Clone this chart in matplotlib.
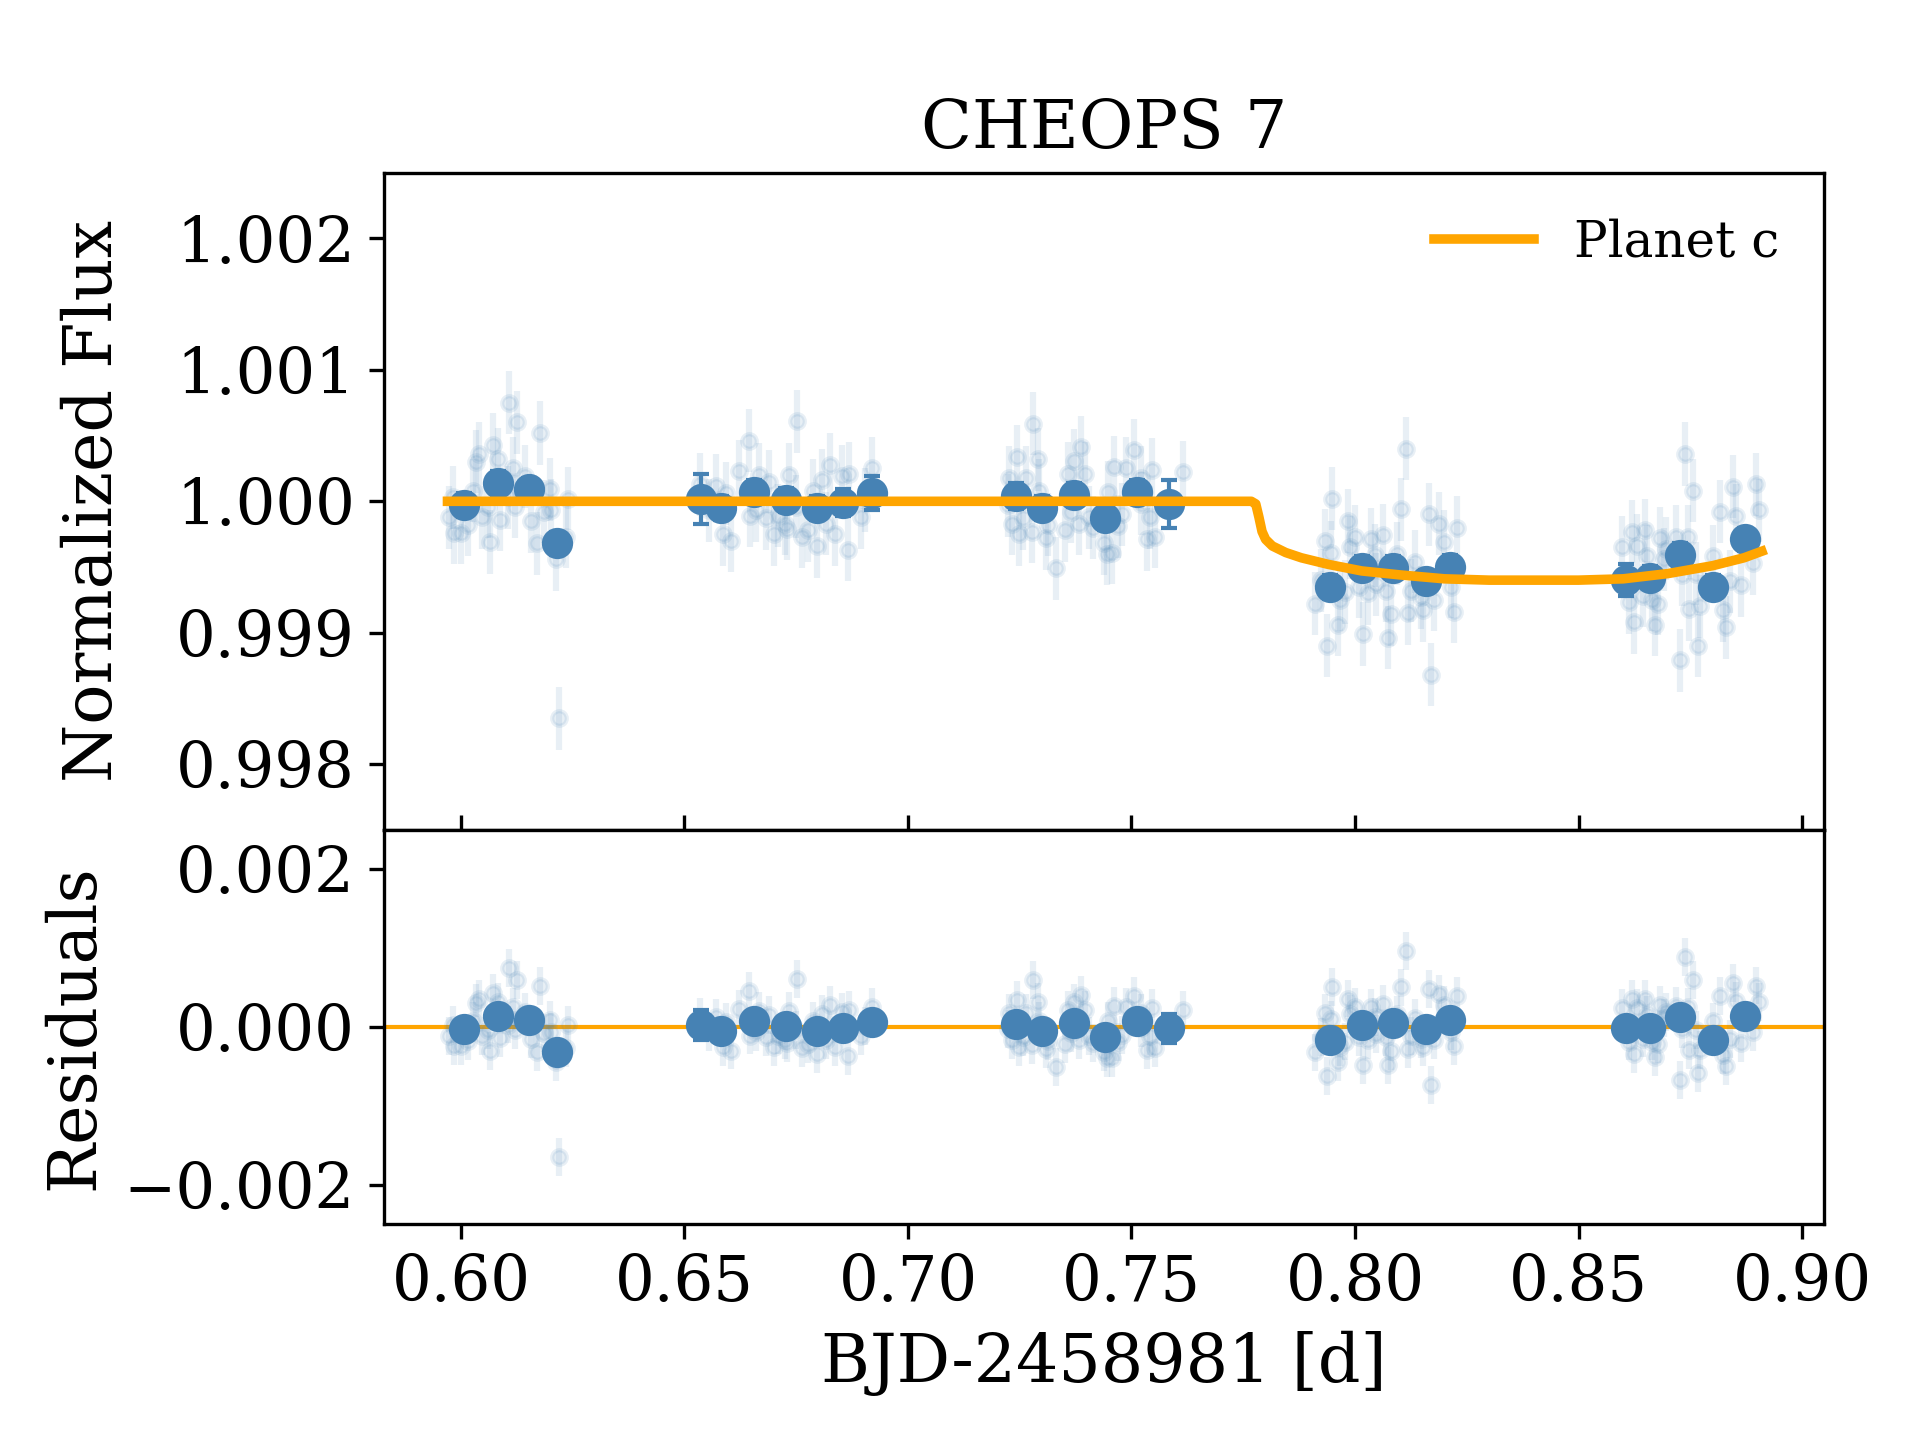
import numpy as np
import matplotlib
matplotlib.use("Agg")
import matplotlib.pyplot as plt
from matplotlib.ticker import MultipleLocator

plt.rcParams['font.family'] = 'serif'
plt.rcParams['font.serif'] = ['DejaVu Serif']

# raw CHEOPS points (time, flux), visit by visit
t_raw_1 = [0.5973, 0.5982, 0.5985, 0.6000, 0.6015, 0.6026, 0.6034, 0.6041, 0.6047, 0.6060,
           0.6064, 0.6071, 0.6082, 0.6088, 0.6105, 0.6108, 0.6116, 0.6122, 0.6126, 0.6144,
           0.6157, 0.6170, 0.6178, 0.6187, 0.6200, 0.6202, 0.6213, 0.6219, 0.6235, 0.6239]
f_raw_1 = [0.99988, 1.00003, 0.99976, 0.99976, 0.99982, 1.00008, 1.00030, 1.00036, 0.99988, 0.99996,
           0.99969, 1.00043, 1.00032, 0.99986, 1.00003, 1.00075, 1.00025, 0.99996, 1.00060, 1.00019,
           0.99985, 0.99968, 1.00052, 0.99992, 1.00009, 0.99993, 0.99956, 0.99835, 0.99973, 1.00002]

t_raw_2 = [0.6534, 0.6556, 0.6571, 0.6586, 0.6593, 0.6605, 0.6623, 0.6644, 0.6646, 0.6661,
           0.6667, 0.6683, 0.6690, 0.6700, 0.6709, 0.6724, 0.6729, 0.6734, 0.6750, 0.6752,
           0.6763, 0.6776, 0.6787, 0.6796, 0.6808, 0.6817, 0.6825, 0.6836, 0.6853, 0.6866,
           0.6869, 0.6896, 0.6903, 0.6920]
f_raw_2 = [1.00013, 0.99993, 1.00012, 0.99975, 1.00006, 0.99970, 1.00023, 1.00046, 0.99989, 0.99993,
           1.00020, 0.99987, 1.00015, 0.99975, 0.99989, 0.99983, 0.99979, 1.00020, 0.99996, 1.00061,
           0.99973, 0.99978, 1.00008, 0.99966, 1.00016, 0.99983, 1.00028, 0.99975, 1.00019, 0.99963,
           1.00021, 0.99988, 1.00001, 1.00025]

t_raw_3 = [0.7223, 0.7225, 0.7233, 0.7245, 0.7249, 0.7257, 0.7263, 0.7277, 0.7279, 0.7290,
           0.7294, 0.7309, 0.7313, 0.7331, 0.7352, 0.7357, 0.7365, 0.7372, 0.7382, 0.7387,
           0.7395, 0.7406, 0.7413, 0.7439, 0.7445, 0.7447, 0.7456, 0.7460, 0.7469, 0.7479,
           0.7488, 0.7505, 0.7521, 0.7521, 0.7534, 0.7542, 0.7546, 0.7552, 0.7615]
f_raw_3 = [0.99997, 1.00018, 0.99983, 1.00034, 0.99975, 0.99987, 1.00018, 0.99977, 1.00059, 1.00032,
           1.00008, 0.99972, 0.99982, 0.99949, 0.99978, 1.00021, 0.99992, 1.00031, 0.99983, 1.00041,
           1.00021, 0.99988, 0.99980, 0.99968, 0.99960, 1.00007, 0.99961, 1.00026, 0.99981, 0.99990,
           1.00025, 1.00039, 1.00018, 0.99998, 0.99971, 0.99988, 1.00024, 0.99973, 1.00022]

t_raw_4 = [0.7911, 0.7925, 0.7932, 0.7937, 0.7946, 0.7949, 0.7962, 0.7966, 0.7977, 0.7984,
           0.7988, 0.7999, 0.8008, 0.8018, 0.8029, 0.8035, 0.8044, 0.8048, 0.8063, 0.8070,
           0.8074, 0.8080, 0.8095, 0.8102, 0.8113, 0.8119, 0.8125, 0.8135, 0.8148, 0.8152,
           0.8165, 0.8169, 0.8177, 0.8188, 0.8199, 0.8214, 0.8222, 0.8228]
f_raw_4 = [0.99922, 0.99940, 0.99970, 0.99890, 0.99961, 1.00002, 0.99906, 0.99925, 0.99931, 0.99985,
           0.99965, 0.99973, 0.99935, 0.99899, 0.99930, 0.99971, 0.99959, 0.99937, 0.99974, 0.99932,
           0.99896, 0.99914, 0.99960, 0.99994, 1.00040, 0.99915, 0.99932, 0.99954, 0.99927, 0.99917,
           0.99990, 0.99868, 0.99925, 0.99983, 0.99969, 0.99935, 0.99916, 0.99980]

t_raw_5 = [0.8598, 0.8613, 0.8619, 0.8623, 0.8631, 0.8644, 0.8648, 0.8653, 0.8665, 0.8670,
           0.8678, 0.8683, 0.8692, 0.8696, 0.8717, 0.8726, 0.8732, 0.8737, 0.8745, 0.8748,
           0.8756, 0.8763, 0.8767, 0.8771, 0.8801, 0.8817, 0.8824, 0.8829, 0.8838, 0.8845,
           0.8853, 0.8864, 0.8890, 0.8898, 0.8904]
f_raw_5 = [0.99965, 0.99923, 0.99977, 0.99908, 0.99966, 0.99928, 0.99978, 0.99958, 0.99925, 0.99906,
           0.99922, 0.99972, 0.99956, 0.99964, 0.99973, 0.99879, 0.99944, 1.00036, 0.99973, 0.99918,
           1.00008, 0.99945, 0.99890, 0.99920, 0.99958, 0.99992, 0.99917, 0.99904, 0.99939, 1.00011,
           0.99989, 0.99936, 0.99953, 1.00013, 0.99993]

raw_err = 0.00024

# binned points
t_bin = [0.6008, 0.6082, 0.6153, 0.6214,
         0.6537, 0.6581, 0.6655, 0.6728, 0.6796, 0.6854, 0.6920,
         0.7242, 0.7299, 0.7371, 0.7440, 0.7512, 0.7583,
         0.7943, 0.8016, 0.8085, 0.8158, 0.8213,
         0.8607, 0.8659, 0.8728, 0.8801, 0.8873]
f_bin = [0.99997, 1.00014, 1.00009, 0.99968,
         1.00002, 0.99995, 1.00007, 1.00001, 0.99995, 0.99999, 1.00006,
         1.00004, 0.99995, 1.00005, 0.99987, 1.00007, 0.99998,
         0.99935, 0.99949, 0.99949, 0.99939, 0.99950,
         0.99940, 0.99942, 0.99959, 0.99935, 0.99971]
e_bin = [0.00009, 0.00009, 0.00009, 0.00009,
         0.00019, 0.00009, 0.00009, 0.00009, 0.00009, 0.00010, 0.00013,
         0.00010, 0.00009, 0.00009, 0.00009, 0.00009, 0.00018,
         0.00009, 0.00009, 0.00009, 0.00009, 0.00009,
         0.00012, 0.00009, 0.00009, 0.00009, 0.00009]

# transit model of planet c
t_mod = [0.5970, 0.7768, 0.7778, 0.7785, 0.7792, 0.7800, 0.7815, 0.7845, 0.7880, 0.7940, 0.8015,
         0.8100, 0.8200, 0.8300, 0.8400, 0.8500, 0.8600, 0.8700, 0.8800, 0.8870, 0.8910]
f_mod = [1.0, 1.0, 0.99998, 0.99988, 0.99977, 0.99971, 0.99966, 0.99961, 0.99957, 0.99952, 0.99947,
         0.99944, 0.99941, 0.99940, 0.99940, 0.99940, 0.99941, 0.99945, 0.99951, 0.99957, 0.99962]

t_raw = np.array(t_raw_1 + t_raw_2 + t_raw_3 + t_raw_4 + t_raw_5)
f_raw = np.array(f_raw_1 + f_raw_2 + f_raw_3 + f_raw_4 + f_raw_5)
t_bin = np.array(t_bin)
f_bin = np.array(f_bin)
res_raw = f_raw - np.interp(t_raw, t_mod, f_mod)
res_bin = f_bin - np.interp(t_bin, t_mod, f_mod)

col = 'steelblue'

fig = plt.figure(figsize=(6.4, 4.8), dpi=300)
gs = fig.add_gridspec(2, 1, height_ratios=[5, 3], hspace=0,
                      left=0.2, right=0.95, top=0.88, bottom=0.15)
ax1 = fig.add_subplot(gs[0])
ax2 = fig.add_subplot(gs[1], sharex=ax1)

# top panel
ax1.errorbar(t_raw, f_raw, yerr=raw_err, fmt='o', color=col, ms=3.5, elinewidth=1.5, alpha=0.12)
ax1.errorbar(t_bin, f_bin, yerr=e_bin, fmt='o', color=col, ms=6.5, elinewidth=1,
             capsize=2, capthick=1)
ax1.plot(t_mod, f_mod, color='orange', lw=2.3, label='Planet c', zorder=5)
ax1.set_ylim(0.9975, 1.0025)
ax1.yaxis.set_major_locator(MultipleLocator(0.001))
ax1.set_ylabel('Normalized Flux', fontsize=16, labelpad=12)
ax1.set_title('CHEOPS 7', fontsize=16)
ax1.legend(loc='upper right', frameon=False, fontsize=12)
ax1.tick_params(axis='x', direction='in', labelbottom=False)
ax1.tick_params(axis='y', labelsize=15)

# residuals
ax2.axhline(0, color='orange', lw=1)
ax2.errorbar(t_raw, res_raw, yerr=raw_err, fmt='o', color=col, ms=3.5, elinewidth=1.5, alpha=0.12)
ax2.errorbar(t_bin, res_bin, yerr=e_bin, fmt='o', color=col, ms=6.5, elinewidth=1,
             capsize=2, capthick=1)
ax2.set_ylim(-0.0025, 0.0025)
ax2.yaxis.set_major_locator(MultipleLocator(0.002))
ax2.set_ylabel('Residuals', fontsize=16)
ax2.set_xlabel('BJD-2458981 [d]', fontsize=16)
ax2.tick_params(labelsize=15)

ax2.set_xlim(0.5828, 0.9049)
ax2.xaxis.set_major_locator(MultipleLocator(0.05))

fig.savefig('out.png', dpi=300)
